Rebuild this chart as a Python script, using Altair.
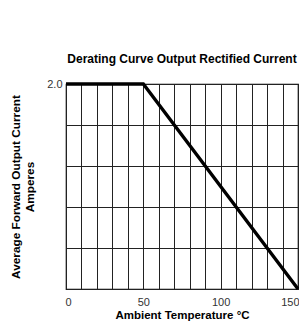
import altair as alt
import pandas as pd

temps = [0, 50, 150]
current = [2.0, 2.0, 0.0]
x_grid = list(range(0, 151, 10))
y_grid = [0, 0.4, 0.8, 1.2, 1.6, 2.0]

df = pd.DataFrame({"t": temps, "i": current})

x_enc = alt.X("t:Q", scale=alt.Scale(domain=[0, 150], nice=False),
              axis=alt.Axis(values=x_grid, grid=True, ticks=False, domain=False,
                            labelExpr="datum.value % 50 == 0 ? datum.label : ''",
                            labelFlush=True, labelFlushOffset=1,
                            labelFont="Liberation Sans", labelFontSize=11, labelColor="#333",
                            labelPadding=7,
                            gridColor="#222", gridOpacity=1, gridWidth=1,
                            title="Ambient Temperature °C", titleFont="Liberation Sans",
                            titleFontSize=11.5, titleFontWeight="bold", titleColor="#000",
                            titlePadding=2))
y_enc = alt.Y("i:Q", scale=alt.Scale(domain=[0, 2], nice=False),
              axis=alt.Axis(values=y_grid, grid=True, ticks=False, domain=False,
                            labelExpr="datum.value == 2 ? '2.0' : ''",
                            labelFont="Liberation Sans", labelFontSize=11, labelColor="#333",
                            labelPadding=4,
                            gridColor="#222", gridOpacity=1, gridWidth=1,
                            title=["Average Forward Output Current", "Amperes"],
                            titleFont="Liberation Sans", titleFontSize=11.8,
                            titleFontWeight="bold", titleColor="#000",
                            titleLineHeight=14, titlePadding=11))

chart = alt.Chart(df).mark_line(color="black", strokeWidth=3.3).encode(
    x=x_enc, y=y_enc
).properties(
    width=232, height=205,
    title=alt.TitleParams("Derating Curve Output Rectified Current",
                          font="Liberation Sans", fontSize=12, fontWeight="bold",
                          color="#000", offset=11),
    autosize=alt.AutoSizeParams(type="none"),
    padding={"left": 58, "top": 76, "right": 1, "bottom": 35},
).configure_view(stroke="black", strokeWidth=1.2)

chart.save("out.html", embed_options={"renderer": "svg", "actions": False})
